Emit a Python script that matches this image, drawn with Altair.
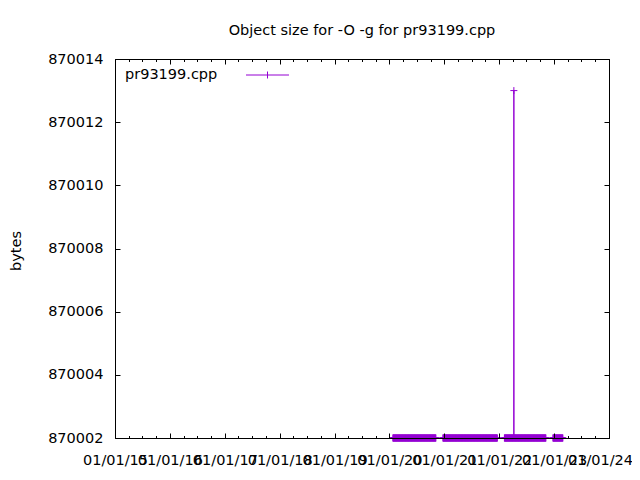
import altair as alt
import pandas as pd

# ---- data ----
# contiguous runs of measurements (start, end) all at the baseline size
seg_start = ["2020-01-24", "2020-12-22", "2022-02-04", "2022-12-24"]
seg_end = ["2020-11-06", "2021-12-20", "2022-11-08", "2023-03-01"]
baseline_bytes = 870002
spike_dates = ["2022-04-08"]
spike_bytes = [870013]
series_name = "pr93199.cpp"
y_ticks = [870002, 870004, 870006, 870008, 870010, 870012, 870014]

rows = []
for s, e in zip(seg_start, seg_end):
    for d in pd.date_range(s, e, freq="2D"):
        rows.append({"date": d.strftime("%Y-%m-%d"), "bytes": baseline_bytes})
for d, v in zip(spike_dates, spike_bytes):
    rows.append({"date": d, "bytes": v})
df = pd.DataFrame(rows)
df["series"] = series_name
df = df.sort_values("date").reset_index(drop=True)

FONT = "DejaVu Sans"
FS = 14.5
PURPLE = "#9400d3"
W, H = 494, 379

x_scale = alt.Scale(type="utc", domain=[alt.DateTime(year=2015, month=1, date=1, utc=True),
                                        alt.DateTime(year=2024, month=1, date=1, utc=True)])
y_scale = alt.Scale(domain=[870002, 870014], nice=False, zero=False)


def tick(v):
    return {"expr": str(v)}


base = alt.Chart(df)

line = base.mark_line(strokeWidth=1).encode(
    x=alt.X("date:T", scale=x_scale, title=None,
            axis=alt.Axis(orient="bottom", format="%m/%d/%y",
                          tickCount={"interval": "year", "step": 1},
                          tickSize=tick(-5), labelPadding=20, labelOverlap=False,
                          labelFlush=False, zindex=1,
                          labelOffset=alt.condition("utcyear(datum.value) >= 2024",
                                                    alt.value(-9), alt.value(0)))),
    y=alt.Y("bytes:Q", scale=y_scale, title="bytes",
            axis=alt.Axis(orient="left", values=y_ticks, format="d", tickSize=tick(-5),
                          labelPadding=17, titleX=-99, titleY=H / 2 + 2,
                          titleBaseline="middle", titleAngle=270, zindex=1)),
    color=alt.Color("series:N", scale=alt.Scale(range=[PURPLE]),
                    legend=alt.Legend(orient="none", legendX=10, legendY=8.5,
                                      title=series_name, titleOrient="left",
                                      titleFont=FONT, titleFontSize=FS,
                                      titleFontWeight="normal", titleColor="black",
                                      titlePadding=42, labelExpr="''",
                                      symbolType="M-3.07,0H3.07M0,-0.5V0.5",
                                      symbolSize=196, symbolStrokeWidth=1,
                                      padding=0)),
)

pts = base.mark_point(shape="M-1,0H1M0,-1V1", size=49, filled=False, stroke=PURPLE,
                      strokeWidth=1, opacity=1).encode(
    x=alt.X("date:T", scale=x_scale, axis=None),
    y=alt.Y("bytes:Q", scale=y_scale, axis=None),
)

mirror = base.mark_point(opacity=0).encode(
    x=alt.X("date:T", scale=x_scale, title=None,
            axis=alt.Axis(orient="top", labels=False, tickSize=tick(-5),
                          tickCount={"interval": "year", "step": 1}, zindex=1)),
    y=alt.Y("bytes:Q", scale=y_scale, title=None,
            axis=alt.Axis(orient="right", labels=False, values=y_ticks,
                          tickSize=tick(-5), zindex=1)),
)

minor_b = base.mark_point(opacity=0).encode(
    x=alt.X("date:T", scale=x_scale, title=None,
            axis=alt.Axis(orient="bottom", labels=False, domain=False, tickSize=tick(-2.5),
                          tickCount={"interval": "month", "step": 3})),
    y=alt.Y("bytes:Q", scale=y_scale, axis=None),
)

minor_t = base.mark_point(opacity=0).encode(
    x=alt.X("date:T", scale=x_scale, title=None,
            axis=alt.Axis(orient="top", labels=False, domain=False, tickSize=tick(-2.5),
                          tickCount={"interval": "month", "step": 3})),
    y=alt.Y("bytes:Q", scale=y_scale, axis=None),
)

chart = (
    alt.layer(line, pts, mirror, minor_b, minor_t)
    .resolve_axis(x="independent", y="independent")
    .properties(
        width=W, height=H,
        title=alt.TitleParams("Object size for -O -g for pr93199.cpp", font=FONT,
                              fontSize=FS, fontWeight="normal", color="black",
                              anchor="middle", baseline="alphabetic", offset=2),
        autosize=alt.AutoSizeParams(type="none"),
        padding={"left": 107, "top": 51, "right": 23, "bottom": 34},
    )
    .configure_view(stroke=None)
    .configure_axis(grid=False, domainColor="black", tickColor="black", labelColor="black",
                    titleColor="black", labelFont=FONT, titleFont=FONT, labelFontSize=FS,
                    titleFontSize=FS, titleFontWeight="normal", domainWidth=1, tickWidth=1)
)

chart.save("out.html", embed_options={"renderer": "svg", "actions": False})
